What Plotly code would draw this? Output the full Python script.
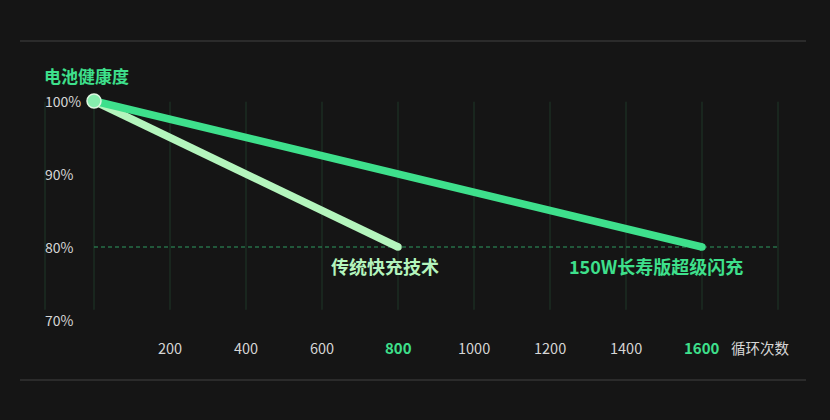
import plotly.graph_objects as go

# cycle counts and battery health (%)
cycles = [0, 800, 1600]
legacy_health = [100, 80]          # 传统快充技术, ends at 800 cycles
longlife_health = [100, 80]        # 150W长寿版超级闪充, ends at 1600 cycles
x_ticks = [200, 400, 600, 800, 1000, 1200, 1400, 1600]
x_highlight = [800, 1600]
grid_x = [0, 200, 400, 600, 800, 1000, 1200, 1400, 1600, 1800]
y_ticks = [100, 90, 80, 70]
y_tick_text = ["100%", "90%", "80%", "70%"]

BG = "#151515"
GREEN = "#3ee08c"
LIGHT = "#b4f5bd"
GRID = "#1f3829"
GREY = "#d6d6d6"
FONT = "Noto Sans CJK SC"

fig = go.Figure()

# vertical grid lines (limited height, so drawn as shapes)
for gx in grid_x:
    fig.add_shape(type="line", x0=gx, x1=gx, y0=71.4, y1=99.9,
                  line=dict(color=GRID, width=1), layer="below")
# left-most faint line next to the y labels
fig.add_shape(type="line", xref="paper", x0=45 / 830, x1=45 / 830,
              y0=71.4, y1=99.9, line=dict(color=GRID, width=1), layer="below")

# dashed 80% reference
fig.add_shape(type="line", x0=grid_x[0], x1=grid_x[-1], y0=80, y1=80,
              line=dict(color="#2e9a60", width=1.2, dash="4px,3px"), layer="below")

# separators top and bottom
for yy in [41, 380]:
    fig.add_shape(type="line", xref="paper", yref="paper",
                  x0=20 / 830, x1=806 / 830, y0=1 - yy / 420, y1=1 - yy / 420,
                  line=dict(color="#333333", width=1.5))

fig.add_trace(go.Scatter(x=cycles[:2], y=legacy_health, mode="lines",
                         line=dict(color=LIGHT, width=7.5), hoverinfo="skip"))
fig.add_trace(go.Scatter(x=[cycles[0], cycles[2]], y=longlife_health, mode="lines",
                         line=dict(color=GREEN, width=7.5), hoverinfo="skip"))
# rounded line ends
fig.add_trace(go.Scatter(x=[cycles[1], cycles[2]], y=[legacy_health[1], longlife_health[1]],
                         mode="markers", marker=dict(size=7.5, color=[LIGHT, GREEN]),
                         hoverinfo="skip"))
fig.add_trace(go.Scatter(x=[cycles[0]], y=[longlife_health[0]], mode="markers",
                         marker=dict(size=14, color="#86eeae",
                                     line=dict(color="#dff7e2", width=1.5)),
                         hoverinfo="skip"))

# series labels
fig.add_annotation(x=cycles[1], y=legacy_health[1], text="<b>传统快充技术</b>",
                   showarrow=False, yshift=-19, xshift=-13,
                   font=dict(family=FONT, size=18, color=LIGHT))
fig.add_annotation(x=cycles[2], y=longlife_health[1], text="<b>150W长寿版超级闪充</b>",
                   showarrow=False, yshift=-19, xshift=-46,
                   font=dict(family=FONT, size=18, color=GREEN))

# y title
fig.add_annotation(xref="paper", x=42 / 830, y=100, yshift=26, text="<b>电池健康度</b>",
                   showarrow=False, xanchor="left",
                   font=dict(family=FONT, size=17, color=GREEN))

# y tick labels
for v, t in zip(y_ticks, y_tick_text):
    fig.add_annotation(xref="paper", x=43 / 830, y=v, text=t, showarrow=False,
                       xanchor="left", font=dict(family=FONT, size=14, color=GREY))

# x tick labels
for v in x_ticks:
    hl = v in x_highlight
    fig.add_annotation(x=v, y=66.2, text=f"<b>{v}</b>" if hl else str(v),
                       showarrow=False,
                       font=dict(family=FONT, size=15 if hl else 14.5,
                                 color=GREEN if hl else GREY))
fig.add_annotation(x=grid_x[-1], y=66.2, text="循环次数", showarrow=False,
                   xshift=-18, font=dict(family=FONT, size=14.5, color=GREY))

fig.update_layout(
    width=830, height=420, autosize=False,
    margin=dict(l=0, r=0, t=0, b=0),
    paper_bgcolor=BG, plot_bgcolor=BG,
    showlegend=False,
    xaxis=dict(range=[-94 / 0.38, 736 / 0.38], visible=False, fixedrange=True),
    yaxis=dict(range=[100 - 319 / 7.3, 100 + 101 / 7.3], visible=False, fixedrange=True),
)

fig.write_html(
    "out.html",
    config={"displayModeBar": False},
    post_script="document.body.style.margin='0';document.body.style.background='#151515';",
)
